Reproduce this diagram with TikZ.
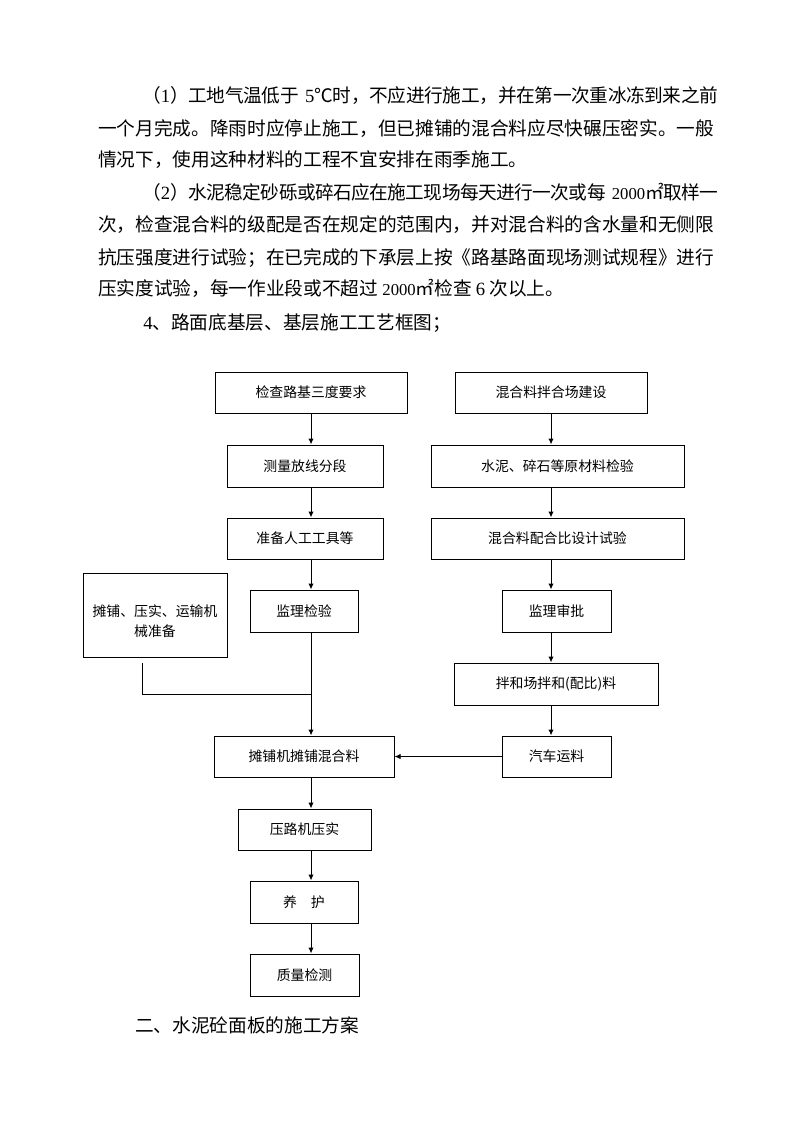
\documentclass[tikz,border=0pt]{standalone}
\usepackage{fontspec}
\usepackage{tikz}
\usetikzlibrary{arrows.meta}

\newfontfamily\cjk{Noto Sans CJK SC}
\newfontfamily\latf{Liberation Serif}
\XeTeXlinebreaklocale "zh"
\XeTeXlinebreakskip=0pt plus 2pt minus 3pt

\tikzset{
  procbox/.style = {rectangle,
      draw = black,
      line width = 0.75pt,
      inner sep = 0pt,
      align = center,
      font = \fontsize{10.4pt}{15pt}\cjk},
  arr/.style = {line width = 0.75pt, -{Latex[length=4.5pt,width=4pt]}},
  conn/.style = {line width = 0.75pt},
  bodyline/.style = {anchor = base west,
      inner sep = 0pt,
      font = \fontsize{14pt}{20pt}\cjk},
}

\begin{document}
\begin{tikzpicture}[x=0.75pt, y=-0.75pt]
\useasboundingbox (0,0) rectangle (794,1123);

% text above the chart
\node[bodyline, text width = 432pt] (p1a) at (142,103) {\parfillskip=0pt （{\latf 1}）工地气温低于 {\latf 5}℃时，不应进行施工，并在第一次重冰冻到来之前};
\node[bodyline, text width = 468pt] (p1b) at (98,136) {\parfillskip=0pt 一个月完成。降雨时应停止施工，但已摊铺的混合料应尽快碾压密实。一般};
\node[bodyline] (p1c) at (98,167) {情况下，使用这种材料的工程不宜安排在雨季施工。};
\node[bodyline, text width = 432pt] (p2a) at (142,200) {\parfillskip=0pt （{\latf 2}）水泥稳定砂砾或碎石应在施工现场每天进行一次或每 {\latf\fontsize{12.5pt}{20pt}\selectfont 2000}㎡取样一};
\node[bodyline, text width = 468pt] (p2b) at (98,232) {\parfillskip=0pt 次，检查混合料的级配是否在规定的范围内，并对混合料的含水量和无侧限};
\node[bodyline, text width = 468pt] (p2c) at (98,264) {\parfillskip=0pt 抗压强度进行试验；在已完成的下承层上按《路基路面现场测试规程》进行};
\node[bodyline] (p2d) at (98,295) {压实度试验，每一作业段或不超过 {\latf\fontsize{12.5pt}{20pt}\selectfont 2000}㎡检查 {\latf 6} 次以上。};
\node[bodyline] (head4) at (143,329) {{\latf 4}、路面底基层、基层施工工艺框图；};

% left column
\node[procbox, minimum width = 144pt, minimum height = 30.75pt] (chk) at (311,392.5) {检查路基三度要求};
\node[procbox, minimum width = 117pt, minimum height = 31.5pt] (survey) at (305,466) {测量放线分段};
\node[procbox, minimum width = 117pt, minimum height = 30.75pt] (tools) at (305,538.5) {准备人工工具等};
\node[procbox, minimum width = 81pt, minimum height = 31.5pt] (supv) at (304,611) {监理检验};
\node[procbox, minimum width = 108pt, minimum height = 63pt] (equip) at (155,615) {\rule{0pt}{18pt}摊铺、压实、运输机\\械准备};
\node[procbox, minimum width = 135pt, minimum height = 30.75pt] (pave) at (304,756.5) {摊铺机摊铺混合料};
\node[procbox, minimum width = 99.75pt, minimum height = 30.75pt] (roll) at (304.5,829.5) {压路机压实};
\node[procbox, minimum width = 81pt, minimum height = 31.5pt] (cure) at (304,902) {养　护};
\node[procbox, minimum width = 81.75pt, minimum height = 31.5pt] (qc) at (304.5,975) {质量检测};

% right column
\node[procbox, minimum width = 144pt, minimum height = 30.75pt] (plant) at (551,392.5) {混合料拌合场建设};
\node[procbox, minimum width = 189.75pt, minimum height = 31.5pt] (raw) at (557.5,466) {水泥、碎石等原材料检验};
\node[procbox, minimum width = 189.75pt, minimum height = 30.75pt] (ratio) at (557.5,538.5) {混合料配合比设计试验};
\node[procbox, minimum width = 81.75pt, minimum height = 31.5pt] (appr) at (556.5,611) {监理审批};
\node[procbox, minimum width = 153pt, minimum height = 31.5pt] (batch) at (556,684) {拌和场拌和(配比)料};
\node[procbox, minimum width = 81.75pt, minimum height = 30.75pt] (truck) at (556.5,756.5) {汽车运料};

\node[bodyline] (head2) at (135,1032) {二、水泥砼面板的施工方案};

% spines
\coordinate (lsp) at (311,0);
\coordinate (rsp) at (551,0);
\coordinate (eqfoot) at (142,663);
\coordinate (join) at (311,694);

\draw[arr] (chk.south) -- (chk.south |- survey.north);
\draw[arr] (survey.south -| lsp) -- (tools.north -| lsp);
\draw[arr] (tools.south -| lsp) -- (supv.north -| lsp);
\draw[arr] (supv.south -| lsp) -- (pave.north -| lsp);
\draw[conn] (eqfoot) |- (join);
\draw[arr] (pave.south -| lsp) -- (roll.north -| lsp);
\draw[arr] (roll.south -| lsp) -- (cure.north -| lsp);
\draw[arr] (cure.south -| lsp) -- (qc.north -| lsp);

\draw[arr] (plant.south) -- (plant.south |- raw.north);
\draw[arr] (raw.south -| rsp) -- (ratio.north -| rsp);
\draw[arr] (ratio.south -| rsp) -- (appr.north -| rsp);
\draw[arr] (appr.south -| rsp) -- (batch.north -| rsp);
\draw[arr] (batch.south -| rsp) -- (truck.north -| rsp);
\draw[arr] (truck.west) -- (pave.east);
\end{tikzpicture}
\end{document}
